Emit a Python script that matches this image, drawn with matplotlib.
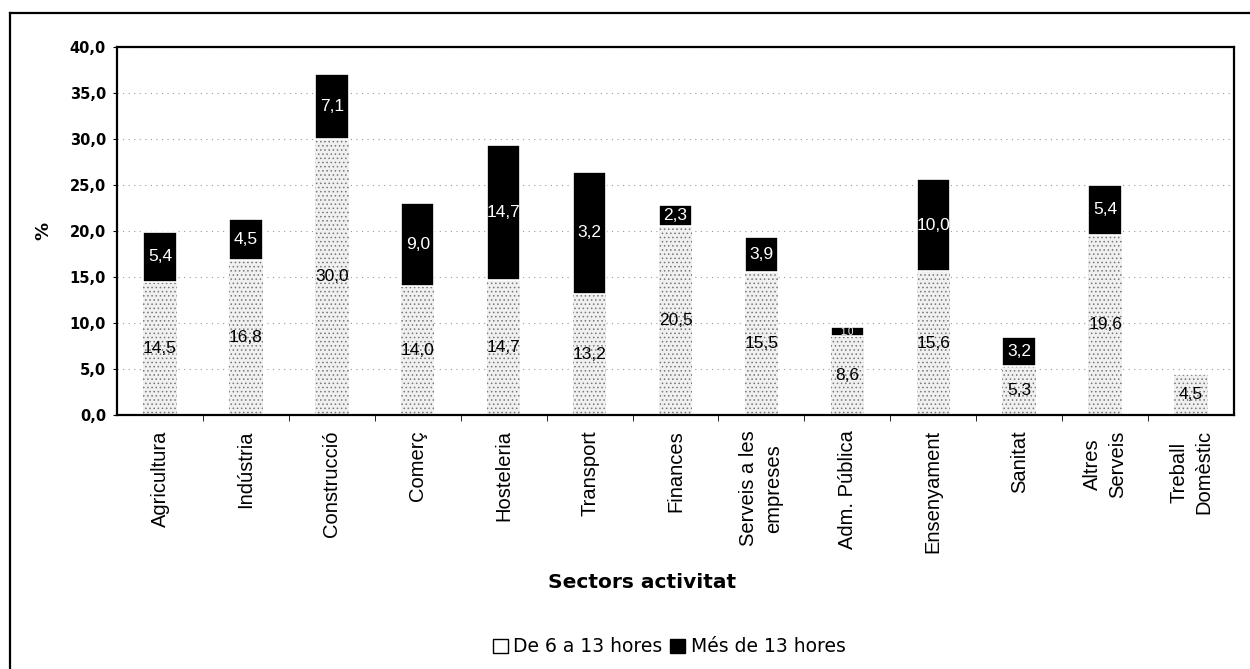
import matplotlib
matplotlib.use("Agg")
import matplotlib.pyplot as plt
from matplotlib.patches import Patch
from matplotlib.lines import Line2D

sectors = [
    "Agricultura", "Indústria", "Construcció", "Comerç", "Hosteleria",
    "Transport", "Finances", "Serveis a les\nempreses", "Adm. Pública",
    "Ensenyament", "Sanitat", "Altres\nServeis", "Treball\nDomèstic",
]
de_6_a_13 = [14.5, 16.8, 30.0, 14.0, 14.7, 13.2, 20.5, 15.5, 8.6, 15.6, 5.3, 19.6, 4.5]
mes_de_13 = [5.4, 4.5, 7.1, 9.0, 14.7, 13.2, 2.3, 3.9, 1.0, 10.0, 3.2, 5.4, 0.0]
# labels as printed on the chart (the Transport one lost its leading "1")
top_labels = ["5,4", "4,5", "7,1", "9,0", "14,7", "3,2", "2,3", "3,9", "1,0",
              "10,0", "3,2", "5,4", ""]
yticks = [0, 5, 10, 15, 20, 25, 30, 35, 40]


def fmt(v):
    return f"{v:.1f}".replace(".", ",")


plt.rcParams["font.family"] = ["Liberation Sans", "DejaVu Sans"]
plt.rcParams["hatch.linewidth"] = 0.6
wide = ["DejaVu Sans"]

fig = plt.figure(figsize=(12.5, 6.69), dpi=100)
ax = fig.add_axes([0.0936, 0.3797, 0.8936, 0.5500])

x = list(range(len(sectors)))
w = 0.39
ax.bar(x, de_6_a_13, width=w, color="#f0f0f0", edgecolor="#777777",
       hatch="....", linewidth=0, zorder=2)
ax.bar(x, mes_de_13, width=w, bottom=de_6_a_13, color="black",
       edgecolor="white", linewidth=1.2, zorder=3)

for i in x:
    b = de_6_a_13[i]
    ax.text(i, b / 2, fmt(b), ha="center", va="center", fontsize=12.5,
            color="black", zorder=4)
    if top_labels[i]:
        ax.text(i, b + mes_de_13[i] / 2, top_labels[i], ha="center",
                va="center", fontsize=12.5 if mes_de_13[i] > 2 else 7,
                color="white", zorder=4)

ax.set_xlim(-0.5, len(sectors) - 0.5)
ax.set_ylim(0, 40)
ax.set_yticks(yticks)
ax.set_yticklabels([fmt(v) for v in yticks], fontsize=10.5,
                   fontweight="bold", family=wide)
ax.set_xticks(x)
ax.set_xticklabels(sectors, rotation=90, fontsize=14.5, ha="center",
                   va="top", multialignment="center", linespacing=1.4)
ax.set_xticks([i + 0.5 for i in x[:-1]], minor=True)
ax.tick_params(axis="x", which="major", length=0, pad=11)
ax.tick_params(axis="x", which="minor", length=4, direction="out")
ax.tick_params(axis="y", length=3, direction="out", pad=5)

ax.grid(axis="y", linestyle=(0, (1, 4)), color="#9a9a9a", linewidth=0.8,
        zorder=0)
for s in ax.spines.values():
    s.set_linewidth(1.6)
    s.set_color("black")

ax.set_ylabel("%", fontsize=13, fontweight="bold", labelpad=12, family=wide)
fig.text(642 / 1250, 1 - 583 / 669, "Sectors activitat", ha="center",
         va="center", fontsize=14.5, fontweight="bold", family=wide)

handles = [Patch(facecolor="white", edgecolor="black", linewidth=1),
           Patch(facecolor="black", edgecolor="black")]
fig.legend(handles, ["De 6 a 13 hores", "Més de 13 hores"], loc="center",
           bbox_to_anchor=(669 / 1250, 0.033), ncol=2, frameon=False,
           prop={"family": wide, "size": 13.5},
           handlelength=0.8, handleheight=0.8, handletextpad=0.3,
           columnspacing=0.4)

# outer chart frame (only left and top edges are inside the scan)
fig.add_artist(Line2D([0.008, 0.008], [0, 0.981], color="black", lw=1.6))
fig.add_artist(Line2D([0.008, 1.0], [0.981, 0.981], color="black", lw=1.6))

fig.savefig("out.png", dpi=100, facecolor="white")
